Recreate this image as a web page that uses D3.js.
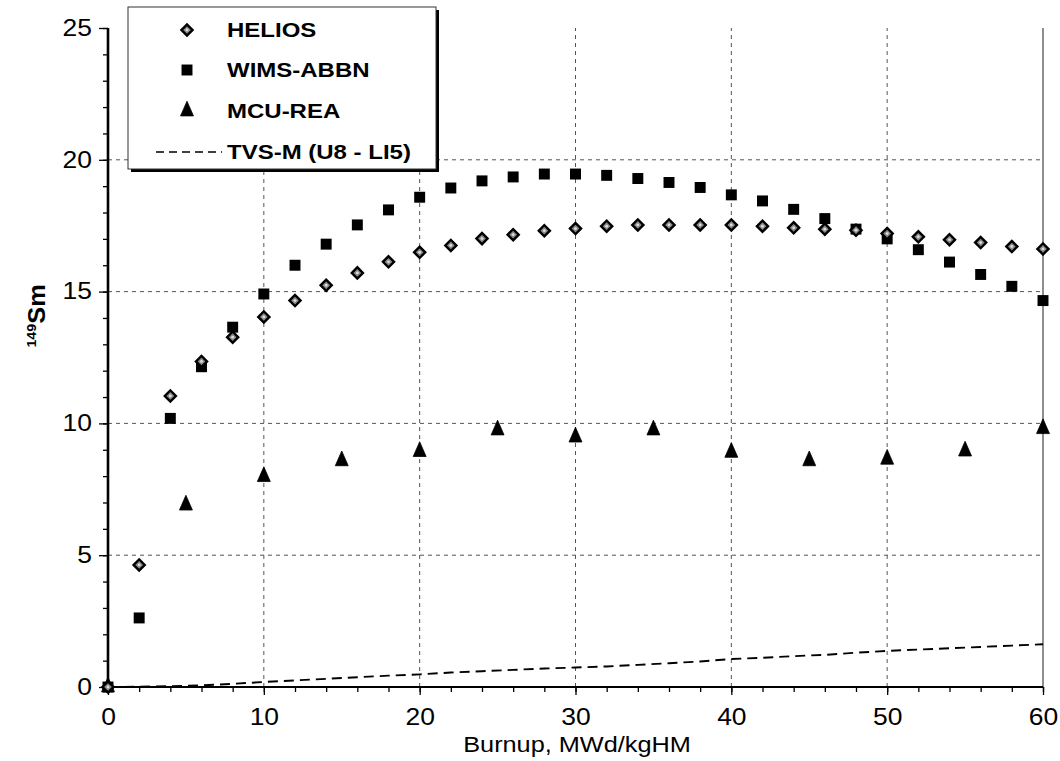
<!DOCTYPE html>
<html>
<head>
<meta charset="utf-8">
<script src="https://cdn.jsdelivr.net/npm/d3@7"></script>
<style>
  html, body { margin: 0; padding: 0; background: #fff; }
  svg { display: block; font-family: Arial, "Liberation Sans", sans-serif; }
</style>
</head>
<body>
<svg id="chart" width="1060" height="761"></svg>
<script>
// Burnup grid for the two lattice codes (MWd/kgHM)
const burnupFine = [0, 2, 4, 6, 8, 10, 12, 14, 16, 18, 20, 22, 24, 26, 28, 30,
                    32, 34, 36, 38, 40, 42, 44, 46, 48, 50, 52, 54, 56, 58, 60];
const helios = [0, 4.63, 11.04, 12.35, 13.27, 14.04, 14.66, 15.24, 15.71, 16.13, 16.49,
                16.75, 17.01, 17.16, 17.31, 17.39, 17.48, 17.53, 17.53, 17.53, 17.53,
                17.48, 17.42, 17.37, 17.33, 17.2, 17.08, 16.97, 16.86, 16.71, 16.62];
const wimsAbbn = [0, 2.62, 10.19, 12.15, 13.65, 14.91, 16.0, 16.8, 17.53, 18.1, 18.58,
                  18.93, 19.2, 19.35, 19.46, 19.46, 19.41, 19.29, 19.14, 18.95, 18.67,
                  18.44, 18.12, 17.77, 17.37, 17.0, 16.59, 16.12, 15.65, 15.2, 14.66];
// Monte Carlo points every 5 MWd/kgHM
const burnupMcu = [0, 5, 10, 15, 20, 25, 30, 35, 40, 45, 50, 55, 60];
const mcuRea = [0, 6.9, 7.98, 8.58, 8.93, 9.75, 9.48, 9.75, 8.9, 8.58, 8.64, 8.95, 9.8];
// TVS-M on the fine grid
const tvsM = [0, 0.01, 0.03, 0.06, 0.12, 0.19, 0.25, 0.31, 0.37, 0.43, 0.48, 0.55,
              0.6, 0.65, 0.7, 0.74, 0.78, 0.84, 0.9, 0.97, 1.06, 1.11, 1.17, 1.22,
              1.3, 1.37, 1.42, 1.47, 1.52, 1.57, 1.62];

const xMajor = [0, 10, 20, 30, 40, 50, 60];
const yMajor = [0, 5, 10, 15, 20, 25];
const legendLabels = ["HELIOS", "WIMS-ABBN", "MCU-REA", "TVS-M (U8 - LI5)"];

const svg = d3.select("#chart");
const x = d3.scaleLinear().domain([0, 60]).range([108, 1043]);
const y = d3.scaleLinear().domain([0, 25]).range([687, 28]);
const stretch = "scale(1.15,1)";

// grid
const grid = svg.append("g");
grid.selectAll("line.gx").data(xMajor.filter(v => v > 0 && v < 60)).join("line")
  .attr("x1", d => x(d)).attr("x2", d => x(d)).attr("y1", y(0)).attr("y2", y(25))
  .attr("stroke", "#555").attr("stroke-width", 1).attr("stroke-dasharray", "4,4");
grid.selectAll("line.gy").data(yMajor.filter(v => v > 0 && v < 25)).join("line")
  .attr("x1", x(0)).attr("x2", x(60)).attr("y1", d => y(d)).attr("y2", d => y(d))
  .attr("stroke", "#555").attr("stroke-width", 1).attr("stroke-dasharray", "4,4");
// right frame line at 60
grid.append("line")
  .attr("x1", x(60)).attr("x2", x(60)).attr("y1", y(0)).attr("y2", y(25))
  .attr("stroke", "#444").attr("stroke-width", 1.2);

// axes: minor ticks first, then major with labels
const xMinor = svg.append("g").attr("transform", `translate(0,${y(0)})`)
  .call(d3.axisBottom(x).tickValues(d3.range(0, 61, 2)).tickSize(5).tickFormat(""));
const xAxis = svg.append("g").attr("transform", `translate(0,${y(0)})`)
  .call(d3.axisBottom(x).tickValues(xMajor).tickSize(8).tickPadding(14).tickFormat(d3.format("d")));
const yMinor = svg.append("g").attr("transform", `translate(${x(0)},0)`)
  .call(d3.axisLeft(y).tickValues(d3.range(0, 26, 1)).tickSize(5).tickFormat(""));
const yAxis = svg.append("g").attr("transform", `translate(${x(0)},0)`)
  .call(d3.axisLeft(y).tickValues(yMajor).tickSize(9).tickPadding(5).tickFormat(d3.format("d")));

[xMinor, xAxis, yMinor, yAxis].forEach(g => {
  g.select(".domain").remove();
  g.selectAll(".tick line").attr("stroke", "#000").attr("stroke-width", 1.3);
});
xAxis.selectAll("text").attr("font-size", 23).attr("fill", "#000")
  .attr("font-family", "Arial, 'Liberation Sans', sans-serif").attr("transform", stretch);
yAxis.selectAll("text").attr("font-size", 23).attr("fill", "#000")
  .attr("font-family", "Arial, 'Liberation Sans', sans-serif").attr("transform", stretch);

// axis lines
svg.append("line").attr("x1", x(0)).attr("x2", x(60)).attr("y1", y(0)).attr("y2", y(0))
  .attr("stroke", "#000").attr("stroke-width", 2);
svg.append("line").attr("x1", x(0)).attr("x2", x(0)).attr("y1", y(0) + 1).attr("y2", y(25))
  .attr("stroke", "#000").attr("stroke-width", 2.6);

// axis titles
svg.append("text")
  .attr("transform", `translate(577,752) ${stretch}`)
  .attr("text-anchor", "middle").attr("font-size", 22).text("Burnup, MWd/kgHM");
const yt = svg.append("text")
  .attr("transform", "translate(45,316) rotate(-90) scale(1.1,1)")
  .attr("text-anchor", "middle").attr("font-size", 23).attr("font-weight", "bold");
yt.append("tspan").attr("font-size", 13).attr("dy", -9).text("149");
yt.append("tspan").attr("dy", 9).text("Sm");

// TVS-M dashed curve
const line = d3.line().x((d, i) => x(burnupFine[i])).y(d => y(d));
svg.append("path").datum(tvsM).attr("d", line)
  .attr("fill", "none").attr("stroke", "#000").attr("stroke-width", 1.9)
  .attr("stroke-dasharray", "10,6");

// marker shapes
const square = d3.symbol().type(d3.symbolSquare).size(120);
const triangle = d3.symbol().type(d3.symbolTriangle).size(100);

function drawHelios(sel) {
  sel.append("path").attr("d", d3.symbol().type(d3.symbolSquare).size(62))
    .attr("transform", "rotate(45)")
    .attr("fill", "#8a8a8a").attr("stroke", "#000").attr("stroke-width", 2.4);
  sel.append("circle").attr("r", 1.4).attr("fill", "#ddd");
}
function drawWims(sel) {
  sel.append("path").attr("d", square).attr("fill", "#000");
}
function drawMcu(sel) {
  sel.append("path").attr("d", triangle).attr("transform", "scale(0.85,1.12)")
    .attr("fill", "#000").attr("stroke", "#000").attr("stroke-width", 0.8);
}

svg.append("g").selectAll("g").data(mcuRea).join("g")
  .attr("transform", (d, i) => `translate(${x(burnupMcu[i])},${y(d)})`)
  .call(drawMcu);
svg.append("g").selectAll("g").data(wimsAbbn).join("g")
  .attr("transform", (d, i) => `translate(${x(burnupFine[i])},${y(d)})`)
  .call(drawWims);
svg.append("g").selectAll("g").data(helios).join("g")
  .attr("transform", (d, i) => `translate(${x(burnupFine[i])},${y(d)})`)
  .call(drawHelios);

// legend box with drop shadow
const lg = svg.append("g");
lg.append("rect").attr("x", 131).attr("y", 10).attr("width", 308).attr("height", 162).attr("fill", "#000");
lg.append("rect").attr("x", 128).attr("y", 7).attr("width", 308).attr("height", 162)
  .attr("fill", "#fff").attr("stroke", "#333").attr("stroke-width", 1);
const rowsY = [30, 70, 111, 152];
const marks = [drawHelios, drawWims, drawMcu];
marks.forEach((fn, i) => {
  lg.append("g").attr("transform", `translate(187,${rowsY[i]})`).call(fn);
});
lg.append("line").attr("x1", 156).attr("x2", 222).attr("y1", rowsY[3]).attr("y2", rowsY[3])
  .attr("stroke", "#000").attr("stroke-width", 1.6).attr("stroke-dasharray", "8,5");
lg.selectAll("text").data(legendLabels).join("text")
  .attr("transform", (d, i) => `translate(227,${rowsY[i] + 7}) scale(1.2,1)`)
  .attr("font-size", 20).attr("font-weight", "bold").text(d => d);
</script>
</body>
</html>
